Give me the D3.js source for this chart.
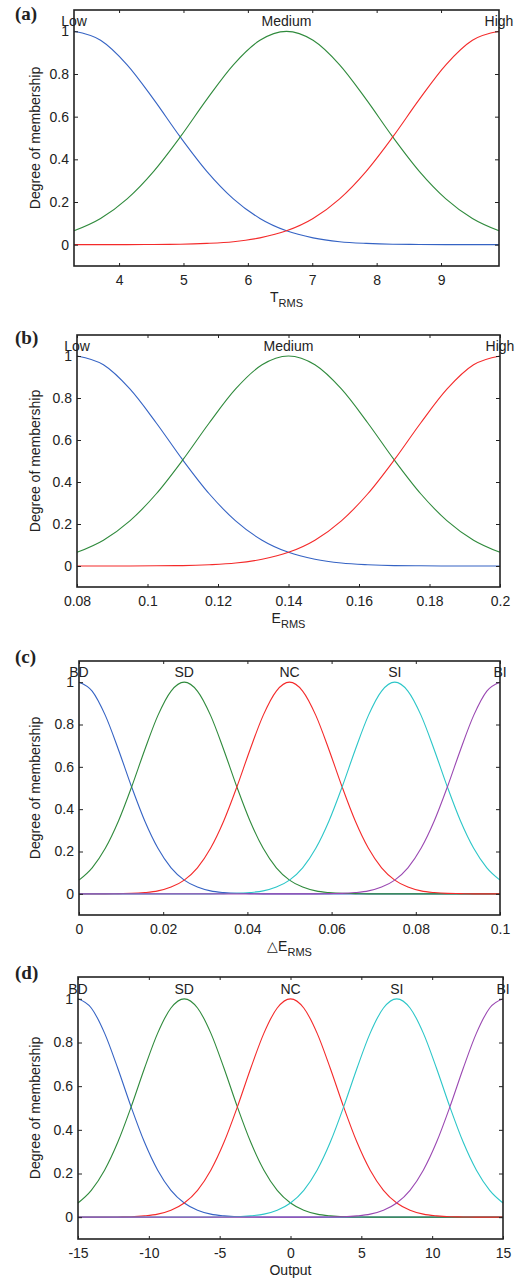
<!DOCTYPE html>
<html>
<head>
<meta charset="utf-8">
<script src="https://cdn.jsdelivr.net/npm/d3@7"></script>
<style>
body { margin: 0; background: #fff; }
svg text { font-family: "Liberation Sans", Arial, sans-serif; fill: #222; }
</style>
</head>
<body>
<svg id="chart" width="523" height="1279"></svg>
<script>
/* eslint-disable no-magic-numbers */

// (a) T_RMS
var aX = [3.3, 3.7125, 4.125, 4.5375, 4.95, 5.3625, 5.775, 6.1875, 6.6, 7.0125, 7.425, 7.8375, 8.25, 8.6625, 9.075, 9.4875, 9.9];
var aLow = [1, .958, .843, .681, .505, .344, .215, .123, .065, .032, .014, .006, .002, .001, 0, 0, 0];
var aMedium = [.065, .123, .215, .344, .505, .681, .843, .958, 1, .958, .843, .681, .505, .344, .215, .123, .065];
var aHigh = [0, 0, 0, .001, .002, .006, .014, .032, .065, .123, .215, .344, .505, .681, .843, .958, 1];
var aTicks = [4, 5, 6, 7, 8, 9];

// (b) E_RMS
var bX = [0.08, 0.0875, 0.095, 0.1025, 0.11, 0.1175, 0.125, 0.1325, 0.14, 0.1475, 0.155, 0.1625, 0.17, 0.1775, 0.185, 0.1925, 0.2];
var bLow = [1, .958, .843, .681, .505, .344, .215, .123, .065, .032, .014, .006, .002, .001, 0, 0, 0];
var bMedium = [.065, .123, .215, .344, .505, .681, .843, .958, 1, .958, .843, .681, .505, .344, .215, .123, .065];
var bHigh = [0, 0, 0, .001, .002, .006, .014, .032, .065, .123, .215, .344, .505, .681, .843, .958, 1];
var bTicks = [0.08, 0.1, 0.12, 0.14, 0.16, 0.18, 0.2];

// (c) delta E_RMS
var cX = [0, .003125, .00625, .009375, .0125, .015625, .01875, .021875, .025, .028125, .03125, .034375, .0375, .040625, .04375, .046875, .05,
	.053125, .05625, .059375, .0625, .065625, .06875, .071875, .075, .078125, .08125, .084375, .0875, .090625, .09375, .096875, .1];
var cBD = [1, .958, .843, .681, .505, .344, .215, .123, .065, .032, .014, .006, .002, .001, 0, 0, 0, 0, 0, 0, 0, 0, 0, 0, 0, 0, 0, 0, 0, 0, 0, 0, 0];
var cSD = [.065, .123, .215, .344, .505, .681, .843, .958, 1, .958, .843, .681, .505, .344, .215, .123, .065, .032, .014, .006, .002, .001, 0, 0, 0, 0, 0, 0, 0, 0, 0, 0, 0];
var cNC = [0, 0, 0, .001, .002, .006, .014, .032, .065, .123, .215, .344, .505, .681, .843, .958, 1, .958, .843, .681, .505, .344, .215, .123, .065, .032, .014, .006, .002, .001, 0, 0, 0];
var cSI = [0, 0, 0, 0, 0, 0, 0, 0, 0, 0, 0, .001, .002, .006, .014, .032, .065, .123, .215, .344, .505, .681, .843, .958, 1, .958, .843, .681, .505, .344, .215, .123, .065];
var cBI = [0, 0, 0, 0, 0, 0, 0, 0, 0, 0, 0, 0, 0, 0, 0, 0, 0, 0, 0, .001, .002, .006, .014, .032, .065, .123, .215, .344, .505, .681, .843, .958, 1];
var cTicks = [0, 0.02, 0.04, 0.06, 0.08, 0.1];

// (d) Output
var dX = [-15, -14.0625, -13.125, -12.1875, -11.25, -10.3125, -9.375, -8.4375, -7.5, -6.5625, -5.625, -4.6875, -3.75, -2.8125, -1.875, -0.9375, 0,
	0.9375, 1.875, 2.8125, 3.75, 4.6875, 5.625, 6.5625, 7.5, 8.4375, 9.375, 10.3125, 11.25, 12.1875, 13.125, 14.0625, 15];
var dBD = [1, .958, .843, .681, .505, .344, .215, .123, .065, .032, .014, .006, .002, .001, 0, 0, 0, 0, 0, 0, 0, 0, 0, 0, 0, 0, 0, 0, 0, 0, 0, 0, 0];
var dSD = [.065, .123, .215, .344, .505, .681, .843, .958, 1, .958, .843, .681, .505, .344, .215, .123, .065, .032, .014, .006, .002, .001, 0, 0, 0, 0, 0, 0, 0, 0, 0, 0, 0];
var dNC = [0, 0, 0, .001, .002, .006, .014, .032, .065, .123, .215, .344, .505, .681, .843, .958, 1, .958, .843, .681, .505, .344, .215, .123, .065, .032, .014, .006, .002, .001, 0, 0, 0];
var dSI = [0, 0, 0, 0, 0, 0, 0, 0, 0, 0, 0, .001, .002, .006, .014, .032, .065, .123, .215, .344, .505, .681, .843, .958, 1, .958, .843, .681, .505, .344, .215, .123, .065];
var dBI = [0, 0, 0, 0, 0, 0, 0, 0, 0, 0, 0, 0, 0, 0, 0, 0, 0, 0, 0, .001, .002, .006, .014, .032, .065, .123, .215, .344, .505, .681, .843, .958, 1];
var dTicks = [-15, -10, -5, 0, 5, 10, 15];

var threeNames = ["Low", "Medium", "High"];
var fiveNames = ["BD", "SD", "NC", "SI", "BI"];
var yTicks = [0, 0.2, 0.4, 0.6, 0.8, 1];

var colBlue = "#3563c4", colGreen = "#2f8a3c", colRed = "#f42a2a", colCyan = "#2cc6c8", colPurple = "#9a48b2";

var svg = d3.select("#chart");

function drawPanel(p) {
	var x = d3.scaleLinear().domain(p.domain).range([p.left, p.right]),
		y = d3.scaleLinear().domain([-0.1, 1.1]).range([p.bottom, p.top]),
		g = svg.append("g"),
		line = d3.line()
			.x(function(d) { return x(d[0]); })
			.y(function(d) { return y(d[1]); })
			.curve(d3.curveMonotoneX);

	// curves
	p.series.forEach(function(s, i) {
		var pts = p.xs.map(function(v, k) { return [v, s[k]]; });
		g.append("path")
			.datum(pts)
			.attr("fill", "none")
			.attr("stroke", p.colors[i])
			.attr("stroke-width", 1.1)
			.attr("d", line);

		// name above each peak
		var peak = pts[d3.maxIndex(pts, function(d) { return d[1]; })];
		g.append("text")
			.attr("x", x(peak[0]))
			.attr("y", y(peak[1]) - 5)
			.attr("text-anchor", "middle")
			.style("font-size", "14px")
			.text(p.names[i]);
	});

	// axes, ticks pointing inward on all four sides
	g.append("g")
		.attr("transform", "translate(0," + p.bottom + ")")
		.call(d3.axisBottom(x).tickValues(p.ticks).tickSize(-3).tickSizeOuter(0).tickPadding(9)
			.tickFormat(function(d) { return String(d); }))
		.call(function(h) { h.select(".domain").remove(); });
	g.append("g")
		.attr("transform", "translate(0," + p.top + ")")
		.call(d3.axisTop(x).tickValues(p.ticks).tickSize(-3).tickSizeOuter(0).tickFormat(""))
		.call(function(h) { h.select(".domain").remove(); });
	g.append("g")
		.attr("transform", "translate(" + p.left + ",0)")
		.call(d3.axisLeft(y).tickValues(yTicks).tickSize(-4).tickSizeOuter(0).tickPadding(5)
			.tickFormat(function(d) { return String(d); }))
		.call(function(h) { h.select(".domain").remove(); });
	g.append("g")
		.attr("transform", "translate(" + p.right + ",0)")
		.call(d3.axisRight(y).tickValues(yTicks).tickSize(-4).tickSizeOuter(0).tickFormat(""))
		.call(function(h) { h.select(".domain").remove(); });

	g.selectAll(".tick line").attr("stroke", "#222").attr("stroke-width", 1);
	g.selectAll(".tick text")
		.style("font-size", "14px")
		.style("font-family", "'Liberation Sans', Arial, sans-serif")
		.attr("fill", "#222");

	g.append("rect")
		.attr("x", p.left)
		.attr("y", p.top)
		.attr("width", p.right - p.left)
		.attr("height", p.bottom - p.top)
		.attr("fill", "none")
		.attr("stroke", "#222")
		.attr("stroke-width", 1.6);

	// axis titles
	var t = g.append("text")
		.attr("x", (p.left + p.right) / 2)
		.attr("y", p.bottom + 36)
		.attr("text-anchor", "middle")
		.style("font-size", "14px")
		.text(p.title[0]);
	if (p.title[1]) {
		t.append("tspan")
			.attr("dy", 5)
			.style("font-size", "11px")
			.text(p.title[1]);
	}

	g.append("text")
		.attr("transform", "translate(40," + y(0.5) + ") rotate(-90)")
		.attr("text-anchor", "middle")
		.style("font-size", "14px")
		.text("Degree of membership");

	g.append("text")
		.attr("x", 15)
		.attr("y", p.letterY)
		.style("font-family", "'Liberation Serif', 'Times New Roman', serif")
		.style("font-weight", "bold")
		.style("font-size", "19px")
		.attr("fill", "#111")
		.text(p.letter);
}

drawPanel({
	letter: "(a)", letterY: 20,
	left: 74, right: 499, top: 10, bottom: 266,
	domain: [3.3, 9.9], ticks: aTicks, xs: aX,
	series: [aLow, aMedium, aHigh], names: threeNames,
	colors: [colBlue, colGreen, colRed],
	title: ["T", "RMS"]
});

drawPanel({
	letter: "(b)", letterY: 344,
	left: 77, right: 500, top: 335, bottom: 587,
	domain: [0.08, 0.2], ticks: bTicks, xs: bX,
	series: [bLow, bMedium, bHigh], names: threeNames,
	colors: [colBlue, colGreen, colRed],
	title: ["E", "RMS"]
});

drawPanel({
	letter: "(c)", letterY: 663,
	left: 79, right: 500, top: 661, bottom: 915,
	domain: [0, 0.1], ticks: cTicks, xs: cX,
	series: [cBD, cSD, cNC, cSI, cBI], names: fiveNames,
	colors: [colBlue, colGreen, colRed, colCyan, colPurple],
	title: ["\u25B3E", "RMS"]
});

drawPanel({
	letter: "(d)", letterY: 979,
	left: 78, right: 503, top: 977, bottom: 1239,
	domain: [-15, 15], ticks: dTicks, xs: dX,
	series: [dBD, dSD, dNC, dSI, dBI], names: fiveNames,
	colors: [colBlue, colGreen, colRed, colCyan, colPurple],
	title: ["Output"]
});
</script>
</body>
</html>
